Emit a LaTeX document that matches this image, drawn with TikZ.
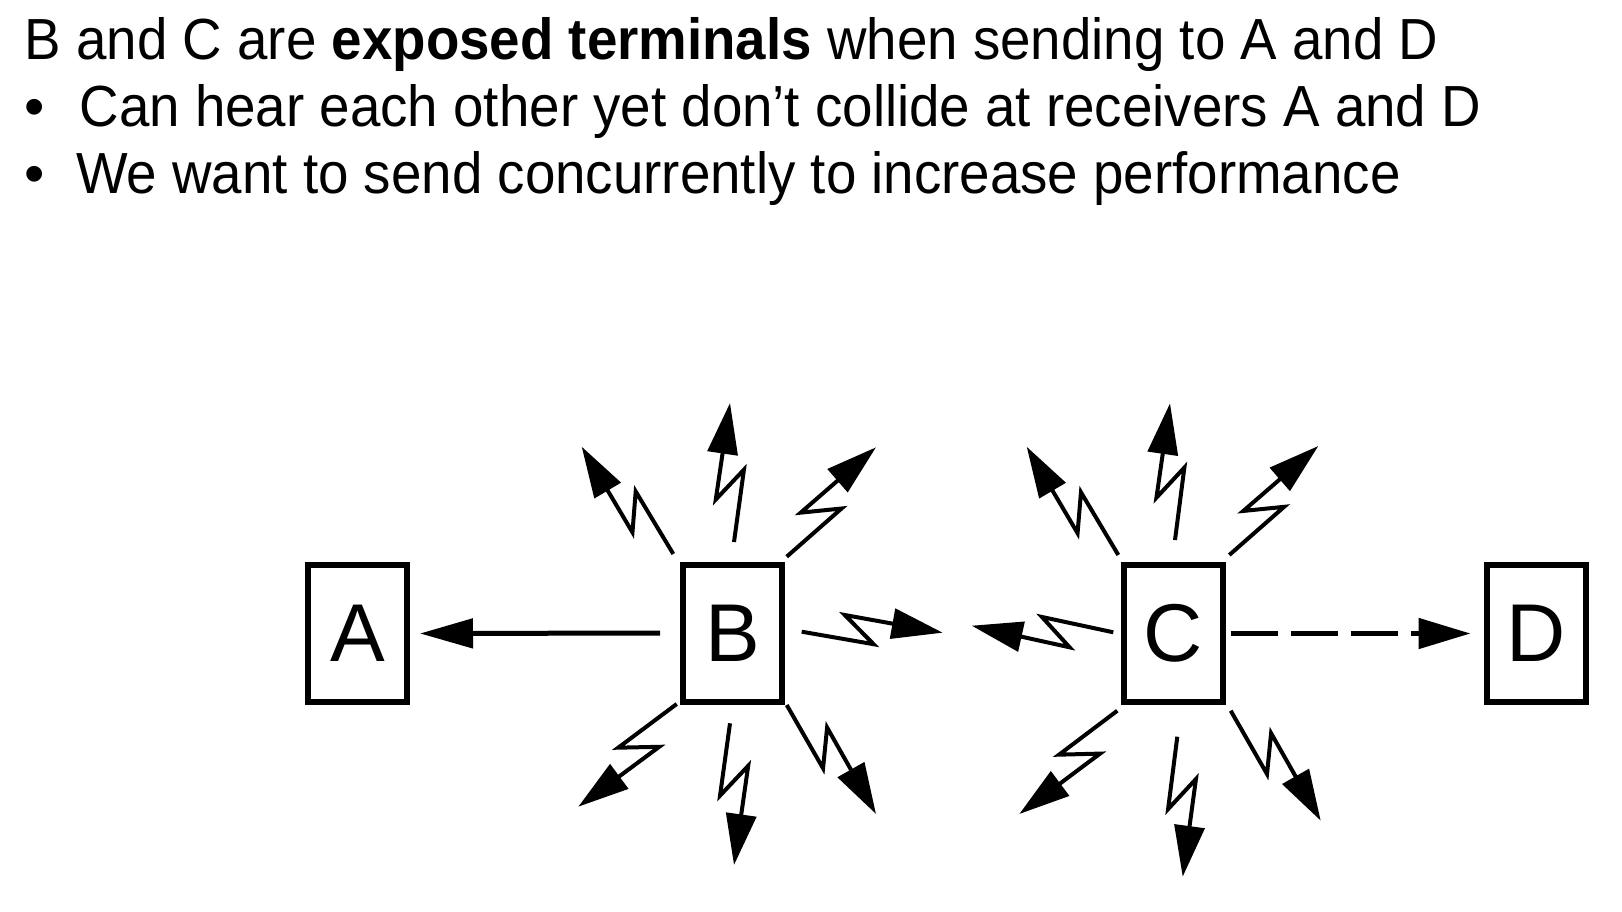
\documentclass[tikz,border=0pt]{standalone}
\usepackage{fontspec}
\setmainfont{Liberation Sans}
\usetikzlibrary{arrows.meta,calc}
\tikzset{
  term/.style={draw, line width=6pt, minimum width=99pt, minimum height=137pt, inner sep=0pt, font=\fontsize{82}{82}\selectfont},
  headline/.style={anchor=base west, inner sep=0pt, font=\fontsize{58}{70}\selectfont},
  bulletmark/.style={anchor=base, inner sep=0pt, font=\fontsize{58}{70}\selectfont},
  wire/.style={line width=5pt, -{Triangle[length=53pt,width=29pt]}},
  dashwire/.style={line width=5pt, dash pattern=on 47pt off 13pt, -{Triangle[length=52pt,width=30pt]}},
  boltline/.style={line width=4pt, miter limit=4, -{Triangle[length=51pt,width=30pt]}},
}
\newcommand\zap[2]{\draw[boltline] (#1) -- ($(#1)!72pt!(#2)!12pt!-90:(#2)$) -- ($(#1)!43pt!(#2)!17pt!90:(#2)$) -- (#2);}
\newcommand\narrow[1]{\scalebox{0.943}[1]{#1}}
\begin{document}
\begin{tikzpicture}[x=1pt,y=-1pt]
\fill[white] (0,0) rectangle (1622,912);
\useasboundingbox (0,0) rectangle (1622,912);

% text
\node[headline] (t1) at (24.5,60) {\narrow{B and C are \textbf{exposed terminals} when sending to A and D}};
\node[bulletmark] (b1) at (35,126.7) {•};
\node[headline] (t2) at (79.5,126.7) {\narrow{Can hear each other yet don’t collide at receivers A and D}};
\node[bulletmark] (b2) at (35,193.3) {•};
\node[headline] (t3) at (76,193.3) {\narrow{We want to send concurrently to increase performance}};

% terminals
\node[term] (A) at (357.5,633.5) {A};
\node[term] (B) at (732.5,633) {B};
\node[term] (C) at (1173.5,633.5) {C};
\node[term] (D) at (1536,633.5) {D};

% direct transmissions
\draw[wire, shorten <=20pt, shorten >=10pt] (B.west) -- (A.east);
\draw[dashwire, shorten <=4.5pt, shorten >=13pt] (C.east) -- (D.west);

% radiation from B
\coordinate (buS) at (734,542);     \coordinate (buT) at (730,403);
\coordinate (bulS) at (673.3,554);  \coordinate (bulT) at (581.7,446.7);
\coordinate (burS) at (786.7,556.7);\coordinate (burT) at (876,447.3);
\coordinate (bdlS) at (676.7,704);  \coordinate (bdlT) at (578.3,806.7);
\coordinate (bdS) at (730,723.3);   \coordinate (bdT) at (734,865);
\coordinate (bdrS) at (786.7,705);  \coordinate (bdrT) at (876,814);
\coordinate (brS) at (801.7,631.7); \coordinate (brT) at (942.7,632.7);
\zap{buS}{buT}
\zap{bulS}{bulT}
\zap{burS}{burT}
\zap{bdlS}{bdlT}
\zap{bdS}{bdT}
\zap{bdrS}{bdrT}
\zap{brS}{brT}

% radiation from C
\coordinate (clS) at (1113.3,632.3);  \coordinate (clT) at (971.7,625.7);
\coordinate (culS) at (1118.3,555);   \coordinate (culT) at (1026.7,446.7);
\coordinate (cuS) at (1175,540);      \coordinate (cuT) at (1170,403.3);
\coordinate (curS) at (1229.3,555);   \coordinate (curT) at (1318.3,446);
\coordinate (cdlS) at (1117.3,710.7); \coordinate (cdlT) at (1019.3,814);
\coordinate (cdS) at (1177.3,736.7);  \coordinate (cdT) at (1182.7,876.7);
\coordinate (cdrS) at (1230.7,710.7); \coordinate (cdrT) at (1320.7,820.7);
\zap{clS}{clT}
\zap{culS}{culT}
\zap{cuS}{cuT}
\zap{curS}{curT}
\zap{cdlS}{cdlT}
\zap{cdS}{cdT}
\zap{cdrS}{cdrT}
\end{tikzpicture}
\end{document}
